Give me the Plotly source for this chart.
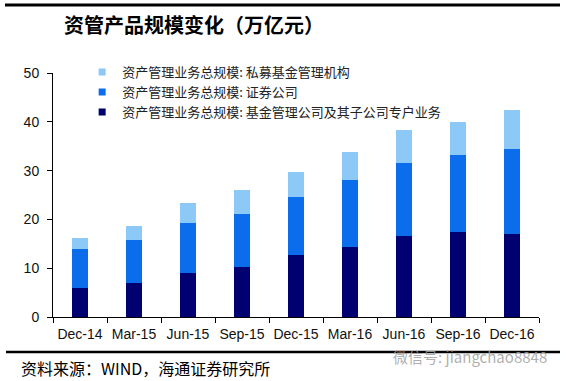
import plotly.graph_objects as go

categories = ["Dec-14", "Mar-15", "Jun-15", "Sep-15", "Dec-15", "Mar-16", "Jun-16", "Sep-16", "Dec-16"]
fund_mgmt = [5.9, 7.0, 9.0, 10.3, 12.7, 14.3, 16.6, 17.4, 17.0]
securities = [8.0, 8.8, 10.3, 10.8, 11.9, 13.8, 15.0, 15.8, 17.4]
private_fund = [2.3, 2.8, 4.1, 4.9, 5.1, 5.7, 6.7, 6.8, 8.0]

names = [
    "资产管理业务总规模: 基金管理公司及其子公司专户业务",
    "资产管理业务总规模: 证券公司",
    "资产管理业务总规模: 私募基金管理机构",
]
colors = ["#000070", "#0B6DEB", "#8CC9F7"]
series = [fund_mgmt, securities, private_fund]

fig = go.Figure()
for name, vals, col in zip(names, series, colors):
    fig.add_trace(go.Bar(x=categories, y=vals, name=name, marker=dict(color=col, line=dict(width=0)),
                         width=0.3, showlegend=False))
# legend entries (small square symbols)
for name, col in zip(names, colors):
    fig.add_trace(go.Scatter(x=[None], y=[None], mode="markers", name=name,
                             marker=dict(symbol="square", size=7, color=col)))

PW, PH, PB = 486, 244, 317  # plot width, height, bottom pixel

fig.update_layout(
    width=566, height=381,
    margin=dict(l=53, r=27, t=73, b=64),
    barmode="stack",
    plot_bgcolor="white", paper_bgcolor="white",
    font=dict(family="Liberation Sans, Arial", size=14, color="#111111"),
    legend=dict(x=0.06, y=1.065, xanchor="left", yanchor="top", traceorder="reversed",
                font=dict(family="Noto Sans CJK SC", size=13, color="#222222"),
                itemwidth=30, tracegroupgap=0, bgcolor="rgba(0,0,0,0)"),
    xaxis=dict(type="category", range=[-0.5, 8.5], showline=True, linecolor="black", linewidth=1,
               ticks="outside", tickson="boundaries", ticklen=5, tickcolor="black",
               showgrid=False, tickfont=dict(size=14), tickangle=0, ticklabelstandoff=4),
    yaxis=dict(range=[0, 50], dtick=10, showline=True, linecolor="black", linewidth=1,
               ticks="outside", ticklen=5, tickcolor="black", showgrid=False, zeroline=False,
               tickfont=dict(size=14), ticklabelstandoff=5),
    shapes=[
        dict(type="line", xref="paper", yref="paper", x0=(5-53)/PW, x1=(560-53)/PW,
             y0=(PB-5)/PH, y1=(PB-5)/PH, line=dict(color="black", width=3)),
        dict(type="line", xref="paper", yref="paper", x0=(6-53)/PW, x1=(560-53)/PW,
             y0=(PB-352)/PH, y1=(PB-352)/PH, line=dict(color="black", width=2.5)),
    ],
    annotations=[
        dict(text="<b>资管产品规模变化（万亿元）</b>", xref="paper", yref="paper",
             x=(62-53)/PW, y=(PB-24)/PH, xanchor="left", yanchor="middle", showarrow=False,
             font=dict(family="Noto Sans CJK SC", size=20, color="black")),
        dict(text="资料来源：WIND，海通证券研究所", xref="paper", yref="paper",
             x=(19-53)/PW, y=(PB-368)/PH, xanchor="left", yanchor="middle", showarrow=False,
             font=dict(family="Noto Sans CJK SC", size=16, color="black")),
        dict(text="微信号: jiangchao8848", xref="paper", yref="paper",
             x=(549-53)/PW, y=(PB-356)/PH, xanchor="right", yanchor="middle", showarrow=False,
             font=dict(family="Noto Sans CJK SC", size=15, color="rgba(160,160,160,0.85)")),
    ],
)

fig.write_html("out.html", config={"displayModeBar": False},
               post_script="document.body.style.margin='0';document.body.style.overflow='hidden';")
